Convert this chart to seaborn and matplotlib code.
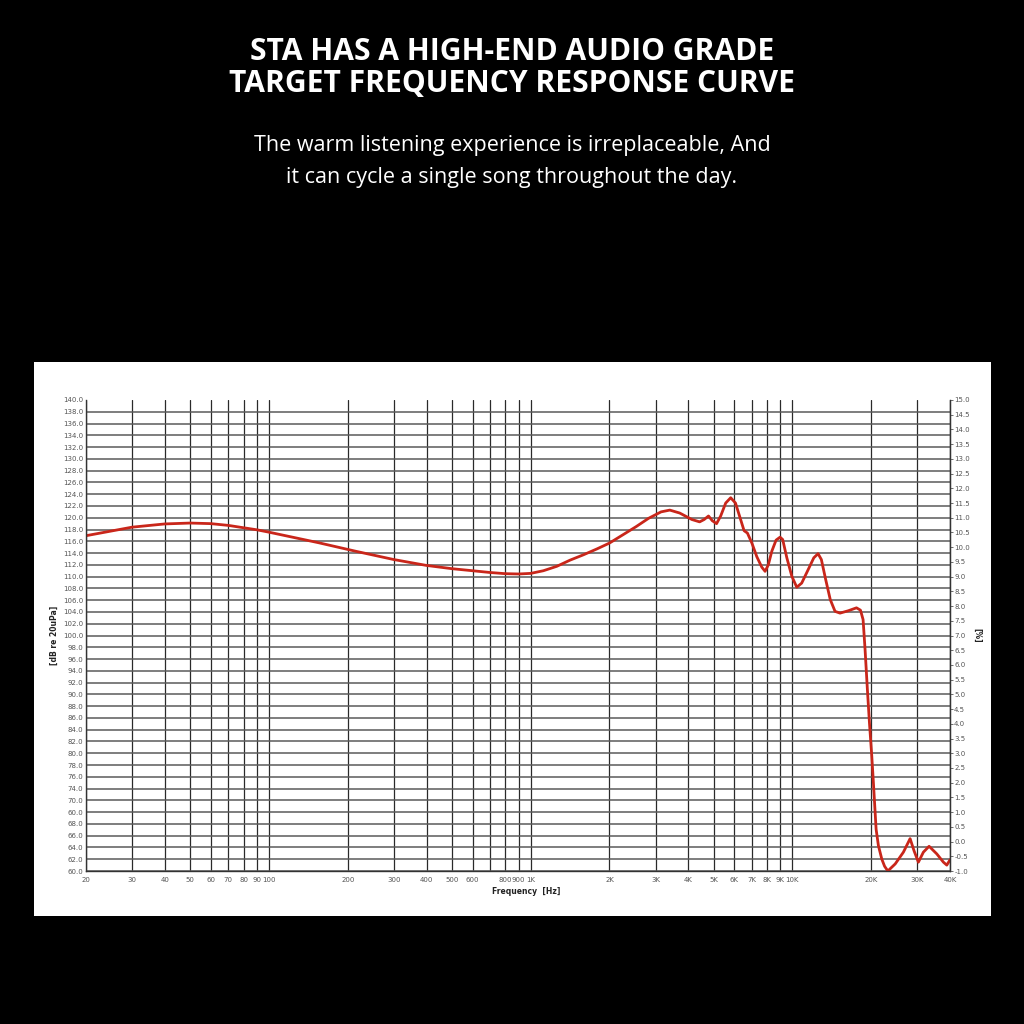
import numpy as np
import matplotlib
matplotlib.use('Agg')
import matplotlib.pyplot as plt
from matplotlib.patches import Rectangle
import seaborn as sns

# Frequency response (Hz / dB)
freq_hz = [20, 30, 40, 50, 60, 70, 80, 90, 100, 155,
           215, 300, 400, 500, 600, 700, 800, 900, 1000, 1118,
           1258, 1414, 1589, 1790, 2000, 2250, 2530, 2820, 3150, 3400,
           3710, 4130, 4420, 4600, 4780, 4940, 5130, 5320, 5560, 5810,
           6060, 6340, 6536, 6730, 7000, 7308, 7640, 7863, 8090, 8340,
           8660, 8970, 9180, 9520, 9950, 10390, 10850, 11490, 12070, 12530,
           12900, 13400, 13950, 14550, 15200, 16340, 17570, 18200, 18620, 18950,
           19340, 19690, 20100, 20390, 20880, 21310, 21960, 22500, 23150, 24700,
           26550, 28160, 29170, 30290, 31650, 33280, 35620, 37750, 38890, 40000]
spl_db = [116.95, 118.4, 118.95, 119.1, 119.0, 118.7, 118.3, 117.95, 117.55, 115.75,
          114.3, 112.9, 111.9, 111.35, 111.0, 110.7, 110.5, 110.45, 110.55, 111.0,
          111.75, 112.8, 113.7, 114.7, 115.7, 117.1, 118.5, 119.9, 121.0, 121.3,
          120.8, 119.7, 119.3, 119.7, 120.3, 119.5, 119.0, 120.3, 122.5, 123.4,
          122.5, 119.7, 117.8, 117.4, 115.7, 113.4, 111.6, 110.9, 112.0, 114.3,
          116.2, 116.7, 116.3, 113.2, 110.05, 108.2, 108.9, 111.2, 113.2, 113.9,
          112.9, 109.5, 106.1, 104.1, 103.8, 104.2, 104.7, 104.3, 102.7, 97.6,
          90.8, 85.2, 79.5, 75.0, 67.1, 64.3, 62.0, 60.8, 60.0, 61.2,
          63.2, 65.5, 63.4, 61.5, 63.2, 64.2, 62.9, 61.5, 61.0, 61.9]

# axis ticks and labels (left labels copied as printed, glitches included)
x_ticks = [20, 30, 40, 50, 60, 70, 80, 90, 100, 200, 300, 400, 500, 600, 700, 800, 900,
           1000, 2000, 3000, 4000, 5000, 6000, 7000, 8000, 9000, 10000, 20000, 30000, 40000]
x_labels = ['20', '30', '40', '50', '60', '70', '80', '90', '100', '200', '300', '400', '500',
            '600', '', '800', '900', '1K', '2K', '3K', '4K', '5K', '6K', '7K', '8K', '9K', '10K',
            '20K', '30K', '40K']
left_ticks = list(range(60, 141, 2))
left_labels = ['60.0', '62.0', '64.0', '66.0', '68.0', '60.0', '70.0'] + \
              ['%.1f' % v for v in range(74, 141, 2)]
right_ticks = [v / 2 for v in range(-2, 31)]

title_lines = ['STA HAS A HIGH-END AUDIO GRADE', 'TARGET FREQUENCY RESPONSE CURVE']
sub_lines = ['The warm listening experience is irreplaceable, And',
             'it can cycle a single song throughout the day.']

sns.set_style('white')
plt.rcParams['font.family'] = ['DejaVu Sans']

fig = plt.figure(figsize=(10.24, 10.24), dpi=100, facecolor='black')

# white card behind the chart
fig.patches.append(Rectangle((34 / 1024, 108 / 1024), 957 / 1024, 554 / 1024,
                             transform=fig.transFigure, facecolor='white',
                             edgecolor='none', zorder=-10))

# headings
for y_px, line in zip([52, 84], title_lines):
    fig.text(0.5, 1 - y_px / 1024, line, ha='center', va='center', color='white',
             fontsize=21.6, fontweight='bold', family='Open Sans')
for y_px, line in zip([146, 178], sub_lines):
    fig.text(0.5, 1 - y_px / 1024, line, ha='center', va='center', color='white',
             fontsize=15.5, family='Open Sans')

# the chart itself
ax = fig.add_axes([86 / 1024, 153 / 1024, 864 / 1024, 471 / 1024])
ax.set_facecolor('white')
ax.set_zorder(5)
sns.lineplot(x=freq_hz, y=spl_db, ax=ax, color='#c9261a', linewidth=2.0,
             estimator=None, sort=True)
ax.set_xscale('log')
ax.set_xlim(20, 40000)
ax.set_ylim(60, 140)
ax.set_xticks(x_ticks)
ax.set_xticklabels(x_labels)
ax.xaxis.set_minor_locator(matplotlib.ticker.NullLocator())
ax.set_yticks(left_ticks)
ax.set_yticklabels(left_labels)
ax.tick_params(axis='both', length=0, labelsize=5, colors='#555555', pad=2)
ax.tick_params(axis='x', pad=4)
ax.grid(True, axis='x', color='#2a2a2a', linewidth=0.9)
ax.grid(True, axis='y', color='#5a5a5a', linewidth=1.1)
ax.yaxis.get_gridlines()[-1].set_visible(False)
ax.set_axisbelow(True)
for side in ['left', 'bottom', 'right']:
    ax.spines[side].set_color('#333333')
    ax.spines[side].set_linewidth(1.0)
ax.spines['top'].set_visible(False)
ax.set_xlabel('Frequency  [Hz]', fontsize=5.5, fontweight='bold', color='#222222',
              labelpad=3, x=0.51)
ax.set_ylabel('[dB re 20uPa]', fontsize=5.5, fontweight='bold', color='#222222',
              labelpad=3)

ax2 = ax.twinx()
ax2.set_zorder(6)
ax2.patch.set_visible(False)
ax2.set_ylim(-1, 15)
ax2.set_yticks(right_ticks)
ax2.set_yticklabels(['%.1f' % v for v in right_ticks])
ax2.tick_params(axis='y', length=2, width=0.6, labelsize=5, colors='#555555', pad=1)
ax2.grid(False)
for side in ['left', 'bottom', 'top']:
    ax2.spines[side].set_visible(False)
ax2.spines['right'].set_color('#333333')
ax2.set_ylabel('[%]', fontsize=5.5, fontweight='bold', color='#222222',
               rotation=270, labelpad=8)

fig.savefig('out.png', dpi=100, facecolor='black')
